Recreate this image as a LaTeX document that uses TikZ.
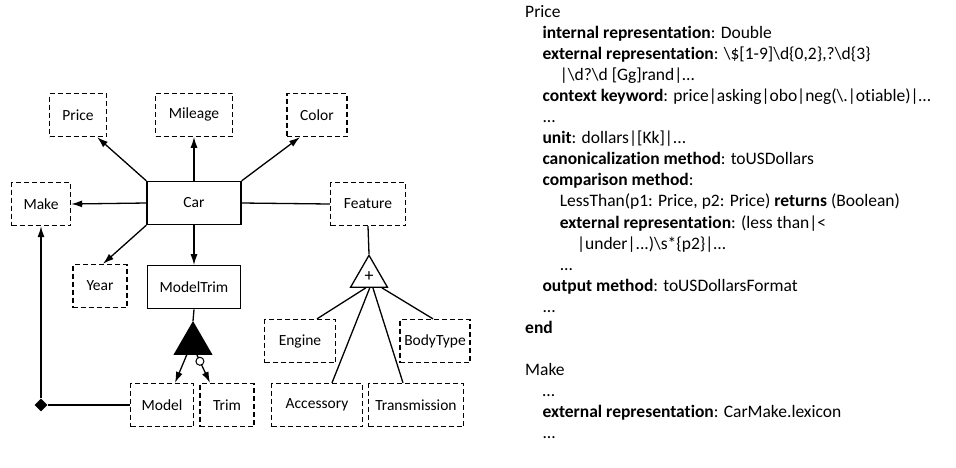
\documentclass[tikz,border=0pt]{standalone}
\usepackage{fontspec}
\setmainfont{Carlito}[Ligatures=NoCommon]
\usetikzlibrary{positioning}
\usetikzlibrary{calc}
\usetikzlibrary{shapes.geometric}
\usetikzlibrary{arrows.meta}

\begin{document}
\begin{tikzpicture}[x=1pt, y=-1pt,
    object/.style={draw, line width=1.3pt, minimum height=43pt, inner sep=0pt, font=\fontsize{15.5}{17}\selectfont},
    lexical/.style={object, dash pattern=on 5pt off 3pt},
    arrow/.style={-{Latex[length=11pt, width=7pt]}, line width=1.3pt},
    link/.style={line width=1.3pt},
    junction/.style={draw, regular polygon, regular polygon sides=3, minimum size=42.5pt, inner sep=0pt, line width=1.3pt, anchor=corner 1},
    specline/.style={anchor=base west, inner sep=0pt, font=\fontsize{17.5}{20}\selectfont},
]
    \useasboundingbox (0,0) rectangle (956,467);

    % object sets
    \node[object, minimum width=94pt] (car) at (194,203) {Car};
    \node[lexical, minimum width=77pt, above=44pt of car] (mileage) {Mileage};
    \node[lexical, minimum width=57pt] (price) at (78,115) {Price};
    \node[lexical, minimum width=60pt] (color) at (317,115) {Color};
    \node[lexical, minimum width=59pt] (make) at (41,204) {Make};
    \node[lexical, minimum width=75pt] (feature) at (368,204) {Feature};
    \node[lexical, minimum width=54pt] (year) at (100,286) {Year};
    \node[object, minimum width=93pt, below=40pt of car] (modeltrim) {ModelTrim};
    \node[lexical, minimum width=63pt] (model) at (162,405) {Model};
    \node[lexical, minimum width=54pt] (trim) at (227,405) {Trim};
    \node[lexical, minimum width=71pt] (engine) at (300,341) {Engine};
    \node[lexical, minimum width=70pt] (bodytype) at (435,341) {BodyType};
    \node[lexical, minimum width=91pt] (accessory) at (317,405) {Accessory};
    \node[lexical, minimum width=95pt] (transmission) at (416,405) {Transmission};

    % generalization / aggregation symbols
    \node[junction, fill=black] (mtgen) at (193,321) {};
    \node[junction, font=\fontsize{18}{18}\selectfont] (ftgen) at (369,254) {+};
    \node[diamond, fill=black, inner sep=0pt, minimum size=13pt] (agg) at (41,405) {};

    % relationships
    \draw[arrow] (car.north west) -- ([xshift=-10pt]price.south east);
    \draw[arrow] (car.north) -- (mileage.south);
    \draw[arrow] (car.north east) -- ([xshift=-17pt]color.south);
    \draw[arrow] (car.west) -- (make.east);
    \draw[arrow] (car.south west) -- ([xshift=3pt]year.north);
    \draw[arrow] (car.south) -- (modeltrim.north);
    \draw[link] (car.east) -- (feature.west);

    \draw[link] (modeltrim.south) -- (mtgen.corner 1);
    \draw[arrow] ($(mtgen.corner 2)!0.34!(mtgen.corner 3)$) -- ([xshift=13pt]model.north);
    \draw[arrow] ($(mtgen.corner 2)!0.6!(mtgen.corner 3)$) -- ([xshift=-17pt]trim.north)
        node[pos=0.23, circle, draw, fill=white, line width=1pt, inner sep=0pt, minimum size=8pt] (opt) {};

    \draw[link] (feature.south) -- (ftgen.corner 1);
    \draw[link] ($(ftgen.corner 2)!0.42!(ftgen.corner 3)$) -- ([xshift=17pt]engine.north);
    \draw[link] ($(ftgen.corner 2)!0.52!(ftgen.corner 3)$) -- ([xshift=15pt]accessory.north);
    \draw[link] ($(ftgen.corner 2)!0.6!(ftgen.corner 3)$) -- ([xshift=-13pt]transmission.north);
    \draw[link] ($(ftgen.corner 2)!0.83!(ftgen.corner 3)$) -- ([xshift=-2pt]bodytype.north);

    \draw[arrow] (agg.north) -- (make.south);
    \draw[link] (agg.east) -- (model.west);

    % data frames
    \foreach \row/\lvl/\txt in {
        0/0/{Price},
        1/1/{\textbf{internal representation}: Double},
        2/1/{\textbf{external representation}: \textbackslash\$[1-9]\textbackslash d\{0,2\},?\textbackslash d\{3\}},
        3/2/{|\textbackslash d?\textbackslash d [Gg]rand|…},
        4/1/{\textbf{context keyword}: price|asking|obo|neg(\textbackslash.|otiable)|…},
        5/1/{...},
        6/1/{\textbf{unit}: dollars|[Kk]|...},
        7/1/{\textbf{canonicalization method}: toUSDollars},
        8/1/{\textbf{comparison method}:},
        9/2/{LessThan(p1: Price, p2: Price) \textbf{returns} (Boolean)},
        10/2/{\textbf{external representation}: (less than|<},
        11/3/{|under|...)\textbackslash s*\{p2\}|…},
        12/2/{...},
        13/1/{\textbf{output method}: toUSDollarsFormat},
        14/1/{...},
        15/0/{\textbf{end}},
        17/0/{Make},
        18/1/{…},
        19/1/{\textbf{external representation}: CarMake.lexicon},
        20/1/{...}}
        \node[specline] (spec\row) at ({525+17.3*\lvl}, {17.5+21.05*\row}) {\txt};

\end{tikzpicture}
\end{document}
